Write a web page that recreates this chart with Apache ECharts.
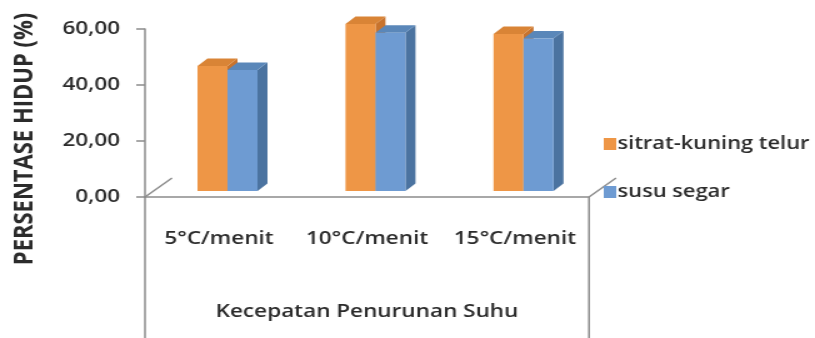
<!DOCTYPE html>
<html>
<head>
<meta charset="utf-8">
<script src="https://cdn.jsdelivr.net/npm/echarts@6/dist/echarts.min.js"></script>
<style>
  html, body { margin: 0; padding: 0; background: #fff; overflow: hidden; }
  /* the chart is laid out narrower and widened on screen, like the stretched original figure */
  #chart { width: 652px; height: 338px; transform: scaleX(1.25); transform-origin: 0 0; }
</style>
</head>
<body>
<div id="chart"></div>
<script>
// ---- data ----
const categories = ['5°C/menit', '10°C/menit', '15°C/menit'];
const seriesNames = ['sitrat-kuning telur', 'susu segar'];
const sitratKuningTelur = [44.6, 59.6, 56.1];
const susuSegar = [43.2, 56.5, 54.5];
const yTickValues = [0, 20, 40, 60];
const yTickLabels = ['0,00', '20,00', '40,00', '60,00'];
const xAxisTitle = 'Kecepatan Penurunan Suhu';
const yAxisTitle = 'PERSENTASE HIDUP (%)';

// ---- layout / style ----
const FONT = '"Open Sans", Lato, sans-serif';
const WEIGHT = 600;
const TEXT = '#2b2b2b';
const LINE = '#8c8c8c';
const W = 652, H = 338;
const GRID = { left: 116, right: 180.8, top: 29, bottom: 141 };
const BAR_FRAC = 24 / 118.4;          // front face width as share of a category band
const FRONT = [6.8, -6];              // front plane of the columns, pushed back from the floor edge
const DEPTH = [8, -7.5];              // column depth (side / top faces)
const FLOOR = [21.6, -19];            // floor depth shown at the axis corners

const palette = [
  { front: '#EE9646', top: '#D98436', side: '#C8732D' },
  { front: '#6E9BD2', top: '#5A87B9', side: '#4B73A0' }
];

function columnRenderer(slot, c) {
  return function (params, api) {
    const band = api.size([1, 0])[0];
    const bw = band * BAR_FRAC;
    const base = api.coord([api.value(0), 0]);
    const top = api.coord([api.value(0), api.value(1)]);
    const x0 = base[0] + FRONT[0] + slot * bw;
    const x1 = x0 + bw;
    const yb = base[1] + FRONT[1];
    const yt = top[1] + FRONT[1];
    const dx = DEPTH[0], dy = DEPTH[1];
    return {
      type: 'group',
      children: [
        { type: 'polygon', shape: { points: [[x1, yt], [x1 + dx, yt + dy], [x1 + dx, yb + dy], [x1, yb]] }, style: { fill: c.side } },
        { type: 'polygon', shape: { points: [[x0, yt], [x1, yt], [x1 + dx, yt + dy], [x0 + dx, yt + dy]] }, style: { fill: c.top } },
        { type: 'rect', shape: { x: x0, y: yt, width: bw, height: yb - yt }, style: { fill: c.front } }
      ]
    };
  };
}

const seriesValues = [sitratKuningTelur, susuSegar];
const series = seriesValues.map((vals, i) => ({
  name: seriesNames[i],
  type: 'custom',
  renderItem: columnRenderer(i - 1, palette[i]),
  itemStyle: { color: palette[i].front },
  encode: { x: 0, y: 1 },
  data: vals.map((v, k) => [k, v]),
  z: 2 + i
}));

// frame lines around the floor and below the category axis
const gx0 = GRID.left, gx1 = W - GRID.right, gy0 = H - GRID.bottom;
const frameStyle = { stroke: LINE, lineWidth: 1.5 };
const graphic = [
  { type: 'line', shape: { x1: gx0, y1: gy0, x2: gx0, y2: H }, style: frameStyle, z: 0 },
  { type: 'line', shape: { x1: gx1, y1: gy0, x2: gx1, y2: H }, style: frameStyle, z: 0 },
  { type: 'line', shape: { x1: gx0, y1: gy0, x2: gx0 + FLOOR[0], y2: gy0 + FLOOR[1] }, style: frameStyle, z: 0 },
  { type: 'line', shape: { x1: gx1, y1: gy0, x2: gx1 + FLOOR[0], y2: gy0 + FLOOR[1] }, style: frameStyle, z: 0 },
  {
    type: 'text', x: 19.5, y: 139, rotation: Math.PI / 2, z: 5,
    style: { text: yAxisTitle, fill: TEXT, font: 'bold 22px ' + FONT, align: 'center', verticalAlign: 'middle' }
  }
];

const labelStyle = { fontFamily: FONT, fontWeight: WEIGHT, fontSize: 18, color: TEXT };

const chart = echarts.init(document.getElementById('chart'), null, { renderer: 'canvas' });
chart.setOption({
  backgroundColor: '#ffffff',
  animation: false,
  grid: GRID,
  legend: {
    orient: 'vertical',
    left: 478,
    top: 130,
    icon: 'rect',
    itemWidth: 10,
    itemHeight: 12,
    itemGap: 30,
    data: seriesNames,
    textStyle: Object.assign({}, labelStyle, { fontSize: 17.5, padding: [0, 0, 0, -4] })
  },
  xAxis: {
    type: 'category',
    data: categories,
    axisLine: { lineStyle: { color: LINE, width: 1.5 } },
    axisTick: { show: false },
    axisLabel: Object.assign({ margin: 33, interval: 0 }, labelStyle),
    name: xAxisTitle,
    nameLocation: 'middle',
    nameGap: 106,
    nameTextStyle: labelStyle
  },
  yAxis: {
    type: 'value',
    min: 0,
    max: 60,
    interval: 20,
    splitLine: { show: false },
    axisLine: { show: true, lineStyle: { color: LINE, width: 1.5 } },
    axisTick: { show: true, length: 7, lineStyle: { color: LINE, width: 1.5 } },
    axisLabel: Object.assign({
      margin: 20,
      formatter: v => yTickLabels[yTickValues.indexOf(v)]
    }, labelStyle)
  },
  graphic: graphic,
  series: series
});
</script>
</body>
</html>
